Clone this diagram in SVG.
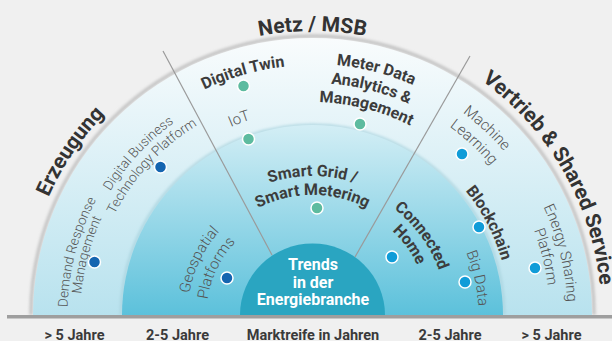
<svg xmlns="http://www.w3.org/2000/svg" width="612" height="341" viewBox="0 0 612 341">
<style>
.t{font-family:Roboto,"Liberation Sans",sans-serif}
.ring{font-size:21px;font-weight:700;fill:#333}
.b{font-size:16px;font-weight:700;fill:#3c3c3c}
.l{font-size:15px;font-weight:300;fill:#555}
.s{font-size:13.5px;font-weight:300;fill:#555}
.axis{font-size:14.5px;font-weight:700;fill:#3a3a3a;text-anchor:middle}
.dot{stroke:#fff;stroke-width:1.5}
.g{fill:#5dbb9f}.d{fill:#1565b0}.c{fill:#109cd8}
.div{stroke:#9a9a9a;stroke-width:1.2;fill:none}
</style>
<defs>
<linearGradient id="gOuter" gradientUnits="userSpaceOnUse" x1="0" y1="38" x2="0" y2="315">
<stop offset="0" stop-color="#f9fcfd"/><stop offset="1" stop-color="#b8e2ee"/>
</linearGradient>
<linearGradient id="gMid" gradientUnits="userSpaceOnUse" x1="0" y1="125" x2="0" y2="315">
<stop offset="0" stop-color="#d3eef5"/><stop offset="1" stop-color="#5cc1db"/>
</linearGradient>
<filter id="blur" x="-10%" y="-10%" width="120%" height="120%"><feGaussianBlur stdDeviation="1.6"/></filter>
<path id="a289" d="M23.5,315 A289,289 0 0 1 601.5,315"/>
<path id="a284" d="M28.5,315 A284,284 0 0 1 596.5,315"/>
<path id="a255" d="M57.5,315 A255,255 0 0 1 567.5,315"/>
<path id="a252" d="M60.5,315 A252,252 0 0 1 564.5,315"/>
<path id="a251" d="M61.5,315 A251,251 0 0 1 563.5,315"/>
<path id="a250" d="M62.5,315 A250,250 0 0 1 562.5,315"/>
<path id="a245" d="M67.5,315 A245,245 0 0 1 557.5,315"/>
<path id="a237" d="M75.5,315 A237,237 0 0 1 549.5,315"/>
<path id="a233" d="M79.5,315 A233,233 0 0 1 545.5,315"/>
<path id="a232" d="M80.5,315 A232,232 0 0 1 544.5,315"/>
<path id="a222" d="M90.5,315 A222,222 0 0 1 534.5,315"/>
<path id="a213" d="M99.5,315 A213,213 0 0 1 525.5,315"/>
<path id="a205" d="M107.5,315 A205,205 0 0 1 517.5,315"/>
<path id="a197" d="M115.5,315 A197,197 0 0 1 509.5,315"/>
<path id="a166" d="M146.5,315 A166,166 0 0 1 478.5,315"/>
<path id="a139" d="M173.5,315 A139,139 0 0 1 451.5,315"/>
<path id="a134" d="M178.5,315 A134,134 0 0 1 446.5,315"/>
<path id="a125" d="M187.5,315 A125,125 0 0 1 437.5,315"/>
<path id="a120" d="M192.5,315 A120,120 0 0 1 432.5,315"/>
<path id="a116" d="M196.5,315 A116,116 0 0 1 428.5,315"/>
<path id="a106" d="M206.5,315 A106,106 0 0 1 418.5,315"/>
</defs>
<rect width="612" height="341" fill="#f0f0f0"/>
<g id="rings">
<path d="M31,315 A281.5,279 0 0 1 594,315" fill="none" stroke="#bdbdbd" stroke-width="3" filter="url(#blur)"/>
<path d="M33,315 A279.5,277 0 0 1 592,315 Z" fill="url(#gOuter)"/>
<path d="M121,315 A191.5,190 0 0 1 504,315" fill="none" stroke="#a9d3de" stroke-width="2.5" filter="url(#blur)"/>
<path d="M122,315 A190.5,190 0 0 1 503,315 Z" fill="url(#gMid)"/>
</g>
<g id="connectors">
<line class="div" x1="163" y1="51" x2="272" y2="255"/>
<line class="div" x1="470" y1="56" x2="355" y2="257"/>
</g>
<g id="center">
<path d="M240,315 A72.5,71.5 0 0 1 385,315 Z" fill="#2aa5c1"/>
<text class="t" font-size="16" font-weight="700" fill="#fff" text-anchor="middle"><tspan x="313" y="270">Trends</tspan><tspan x="313" y="287.5">in der</tspan><tspan x="313" y="305">Energiebranche</tspan></text>
</g>
<g id="sector-titles">
<text class="t ring" text-anchor="middle"><textPath href="#a289" startOffset="18.9%">Erzeugung</textPath></text>
<text class="t ring" text-anchor="middle"><textPath href="#a284" startOffset="50%">Netz / MSB</textPath></text>
<text class="t ring" text-anchor="middle"><textPath href="#a289" startOffset="83.3%">Vertrieb &amp; Shared Service</textPath></text>
</g>
<g id="node-demand-response">
<text class="t s" text-anchor="middle"><textPath href="#a245" startOffset="8.3%">Demand Response</textPath></text>
<text class="t s" text-anchor="middle"><textPath href="#a232" startOffset="8.3%">Management</textPath></text>
<circle class="dot d" cx="94.5" cy="262" r="6"/>
</g>
<g id="node-digital-business">
<text class="t s" text-anchor="middle"><textPath href="#a237" startOffset="23.8%">Digital Business</textPath></text>
<text class="t s" text-anchor="middle"><textPath href="#a222" startOffset="23.8%">Technology Platform</textPath></text>
<circle class="dot d" cx="160.5" cy="167" r="6"/>
</g>
<g id="node-geospatial">
<text class="t l" text-anchor="middle"><textPath href="#a125" startOffset="14.4%">Geospatial</textPath></text>
<text class="t l" text-anchor="middle"><textPath href="#a106" startOffset="14.4%">Platforms</textPath></text>
<circle class="dot d" cx="227" cy="278" r="6"/>
</g>
<g id="node-digital-twin">
<text class="t b" font-size="18" text-anchor="middle"><textPath href="#a250" startOffset="41.1%">Digital Twin</textPath></text>
<circle class="dot g" cx="243.5" cy="86" r="6"/>
</g>
<g id="node-iot">
<text class="t l" text-anchor="middle"><textPath href="#a205" startOffset="38.6%">IoT</textPath></text>
<circle class="dot g" cx="248.5" cy="139" r="6"/>
</g>
<g id="node-meter-data">
<text class="t b" text-anchor="middle"><textPath href="#a251" startOffset="58.1%">Meter Data</textPath></text>
<text class="t b" text-anchor="middle"><textPath href="#a232" startOffset="58.1%">Analytics &amp;</textPath></text>
<text class="t b" text-anchor="middle"><textPath href="#a213" startOffset="58.1%">Management</textPath></text>
<circle class="dot g" cx="360" cy="124" r="6"/>
</g>
<g id="node-smart-grid">
<text class="t b" text-anchor="middle"><textPath href="#a139" startOffset="50%">Smart Grid /</textPath></text>
<text class="t b" text-anchor="middle"><textPath href="#a120" startOffset="50%">Smart Metering</textPath></text>
<circle class="dot g" cx="317" cy="208" r="6"/>
</g>
<g id="node-machine-learning">
<text class="t l" text-anchor="middle"><textPath href="#a252" startOffset="73.9%">Machine</textPath></text>
<text class="t l" text-anchor="middle"><textPath href="#a233" startOffset="73.9%">Learning</textPath></text>
<circle class="dot c" cx="462" cy="154" r="6"/>
</g>
<g id="node-blockchain">
<text class="t b" text-anchor="middle"><textPath href="#a197" startOffset="84.7%">Blockchain</textPath></text>
<circle class="dot c" cx="479" cy="227" r="6"/>
</g>
<g id="node-connected-home">
<text class="t b" text-anchor="middle"><textPath href="#a134" startOffset="80%">Connected</textPath></text>
<text class="t b" text-anchor="middle"><textPath href="#a116" startOffset="80%">Home</textPath></text>
<circle class="dot c" cx="392" cy="257" r="6"/>
</g>
<g id="node-big-data">
<text class="t l" text-anchor="middle"><textPath href="#a166" startOffset="93%">Big Data</textPath></text>
<circle class="dot c" cx="465" cy="282" r="6"/>
</g>
<g id="node-energy-sharing">
<text class="t l" text-anchor="middle"><textPath href="#a255" startOffset="92.2%">Energy Sharing</textPath></text>
<text class="t l" text-anchor="middle"><textPath href="#a237" startOffset="92.2%">Platform</textPath></text>
<circle class="dot c" cx="535" cy="268" r="6"/>
</g>
<g id="axis">
<rect x="7" y="315" width="605" height="3.5" fill="#9e9e9e"/>
<text class="t axis" x="74.5" y="340">&gt; 5 Jahre</text>
<text class="t axis" x="177.5" y="340">2-5 Jahre</text>
<text class="t axis" x="313" y="340">Marktreife in Jahren</text>
<text class="t axis" x="450" y="340">2-5 Jahre</text>
<text class="t axis" x="551.5" y="340">&gt; 5 Jahre</text>
</g>
</svg>
